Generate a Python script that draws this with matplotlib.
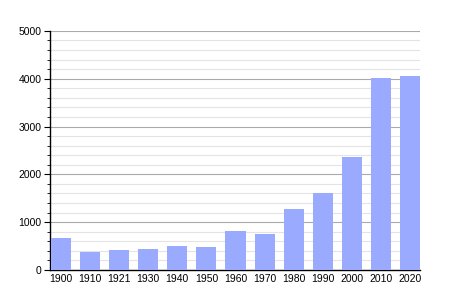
import matplotlib
matplotlib.use("Agg")
import matplotlib.pyplot as plt
from matplotlib.ticker import MultipleLocator

# population by census year
years = ["1900", "1910", "1921", "1930", "1940", "1950", "1960",
         "1970", "1980", "1990", "2000", "2010", "2020"]
population = [670, 380, 420, 440, 500, 480, 815, 750, 1276, 1610, 2364, 4010, 4058]

plt.rcParams["font.family"] = ["Liberation Sans", "DejaVu Sans"]

fig = plt.figure(figsize=(4.5, 3), dpi=100)
ax = fig.add_axes([0.111, 0.1, 0.822, 0.797])

x = list(range(len(years)))
ax.bar(x, population, width=0.69, color="#99aaff", zorder=3)

ax.set_ylim(0, 5000)
ax.set_xlim(-0.38, 12.34)
ax.yaxis.set_major_locator(MultipleLocator(1000))
ax.yaxis.set_minor_locator(MultipleLocator(200))
ax.grid(axis="y", which="major", color="#aaaaaa", linewidth=0.8, zorder=0)
ax.grid(axis="y", which="minor", color="#e4e4e4", linewidth=0.8, zorder=0)

ax.set_xticks(x)
ax.set_xticklabels(years)
ax.tick_params(axis="x", length=0, labelsize=7.5, pad=3)
ax.tick_params(axis="y", which="major", length=4, labelsize=7.5, pad=2)
ax.tick_params(axis="y", which="minor", length=2)

for s in ["top", "right"]:
    ax.spines[s].set_visible(False)
ax.spines["left"].set_linewidth(1)
ax.spines["bottom"].set_linewidth(1)

fig.savefig("out.png", dpi=100)
